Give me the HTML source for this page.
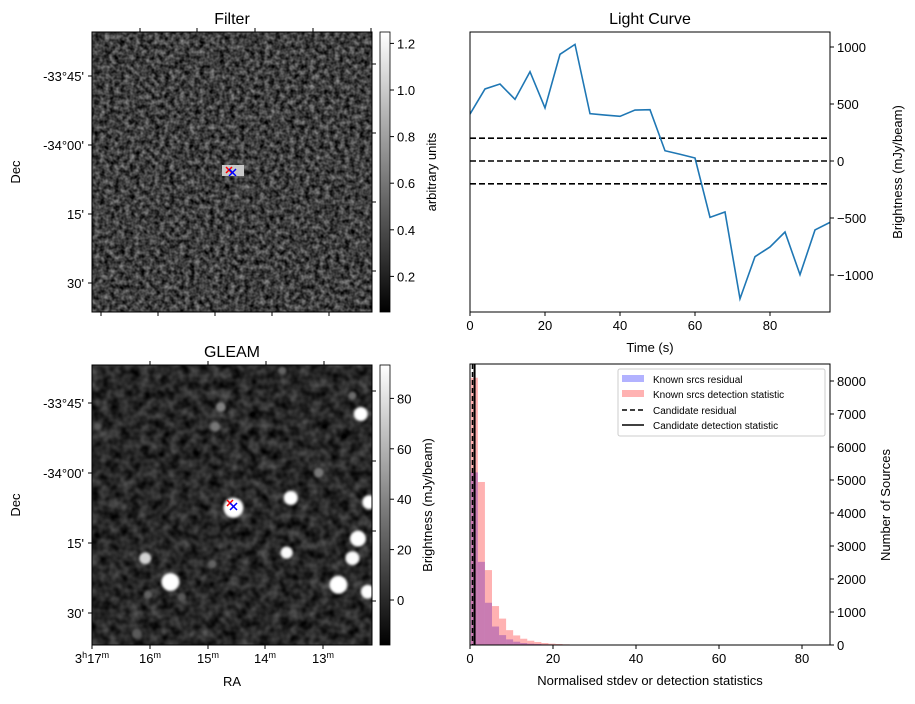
<!DOCTYPE html>
<html><head><meta charset="utf-8"><style>
body{margin:0;background:#fff;}
svg text{font-family:"Liberation Sans","DejaVu Sans",sans-serif;fill:#000;}
</style></head><body>
<svg id="fig" width="915" height="699" viewBox="0 0 915 699" xmlns="http://www.w3.org/2000/svg">
<defs>
<filter id="noise1" x="0" y="0" width="100%" height="100%" color-interpolation-filters="sRGB">
<feTurbulence type="fractalNoise" baseFrequency="0.2" numOctaves="2" seed="3"/>
<feColorMatrix type="matrix" values="0.75 0 0 0 -0.13  0.75 0 0 0 -0.13  0.75 0 0 0 -0.13  0 0 0 0 1"/>
</filter>
<filter id="noise2" x="0" y="0" width="100%" height="100%" color-interpolation-filters="sRGB">
<feTurbulence type="fractalNoise" baseFrequency="0.1" numOctaves="2" seed="7"/>
<feColorMatrix type="matrix" values="0.45 0 0 0 -0.07  0.45 0 0 0 -0.07  0.45 0 0 0 -0.07  0 0 0 0 1"/>
</filter>
<filter id="blur1" color-interpolation-filters="sRGB"><feGaussianBlur stdDeviation="1.2"/></filter>
<linearGradient id="cbar" x1="0" y1="1" x2="0" y2="0"><stop offset="0" stop-color="#000"/><stop offset="1" stop-color="#fff"/></linearGradient>
<clipPath id="clipG"><rect x="92" y="365" width="280" height="280"/></clipPath>
<clipPath id="clipLC"><rect x="470" y="32" width="360" height="280"/></clipPath>
</defs>

<text x="232" y="24" font-size="16" text-anchor="middle">Filter</text>
<g>
<rect x="92" y="32" width="280" height="280" fill="#3a3a3a"/>
<rect x="92" y="32" width="280" height="280" filter="url(#noise1)"/>
<rect x="222" y="165" width="22" height="11" fill="#c8c8c8"/>
</g>
<g>
<path d="M226,167 l6,6 M232,167 l-6,6" stroke="red" stroke-width="1.5"/>
<path d="M229,169 l7,7 M236,169 l-7,7" stroke="blue" stroke-width="1.5"/>
</g>
<rect x="92" y="32" width="280" height="280" fill="none" stroke="#000"/>
<g id="filterTicks"></g>
<text x="20" y="172" font-size="13" transform="rotate(-90 20 172)" text-anchor="middle">Dec</text>
<rect x="380" y="32" width="10" height="280" fill="url(#cbar)" stroke="#000" stroke-width="0.8"/>
<g id="cb1"></g>
<text x="436" y="172" font-size="13" transform="rotate(-90 436 172)" text-anchor="middle">arbitrary units</text>

<text x="232" y="357" font-size="16" text-anchor="middle">GLEAM</text>
<g clip-path="url(#clipG)">
<rect x="92" y="365" width="280" height="280" fill="#262626"/>
<rect x="92" y="365" width="280" height="280" filter="url(#noise2)"/>
<g id="blobs" filter="url(#blur1)"></g>
</g>
<g>
<path d="M227,500 l6,6 M233,500 l-6,6" stroke="red" stroke-width="1.5"/>
<path d="M230,503 l7,7 M237,503 l-7,7" stroke="blue" stroke-width="1.5"/>
</g>
<rect x="92" y="365" width="280" height="280" fill="none" stroke="#000"/>
<g id="gleamTicks"></g>
<text x="20" y="505" font-size="13" transform="rotate(-90 20 505)" text-anchor="middle">Dec</text>
<text x="232" y="686" font-size="13" text-anchor="middle">RA</text>
<rect x="380" y="365" width="10" height="280" fill="url(#cbar)" stroke="#000" stroke-width="0.8"/>
<g id="cb2"></g>
<text x="432" y="505" font-size="13" transform="rotate(-90 432 505)" text-anchor="middle">Brightness (mJy/beam)</text>

<text x="650" y="24" font-size="16" text-anchor="middle">Light Curve</text>
<g id="lc"></g>
<rect x="470" y="32" width="360" height="280" fill="none" stroke="#000"/>
<text x="650" y="352" font-size="13" text-anchor="middle">Time (s)</text>
<text x="902" y="172" font-size="13" transform="rotate(-90 902 172)" text-anchor="middle">Brightness (mJy/beam)</text>

<g id="hist"></g>
<rect x="470" y="364" width="360" height="281" fill="none" stroke="#000"/>
<text x="650" y="685" font-size="13" text-anchor="middle">Normalised stdev or detection statistics</text>
<text x="890" y="505" font-size="13" transform="rotate(-90 890 505)" text-anchor="middle">Number of Sources</text>
<g>
<rect x="618" y="369" width="207" height="67" fill="#fff" fill-opacity="0.8" stroke="#ccc" rx="2"/>
<rect x="622" y="375" width="22" height="7" fill="rgba(0,0,255,0.3)"/>
<text x="653" y="383" font-size="10">Known srcs residual</text>
<rect x="622" y="390" width="22" height="7" fill="rgba(255,0,0,0.3)"/>
<text x="653" y="398" font-size="10">Known srcs detection statistic</text>
<line x1="622" y1="410" x2="644" y2="410" stroke="#000" stroke-width="1.5" stroke-dasharray="5,3"/>
<text x="653" y="414" font-size="10">Candidate residual</text>
<line x1="622" y1="425" x2="644" y2="425" stroke="#000" stroke-width="1.5"/>
<text x="653" y="429" font-size="10">Candidate detection statistic</text>
</g>
</svg>
<script>
const NS='http://www.w3.org/2000/svg';
const lcTimes=[0,4,8,12,16,20,24,28,32,36,40,44,48,52,56,60,64,68,72,76,80,84,88,92,96];
const lcValues=[412,632,675,541,783,465,936,1023,415,403,392,447,450,90,59,26,-494,-447,-1208,-839,-754,-623,-997,-605,-538];
const lcThresholds=[200,0,-200];
const lcXTicks=[0,20,40,60,80];
const lcYTicks=[-1000,-500,0,500,1000];
const histEdgeStart=0.2;
const histBinWidth=1.7;
const histDetection=[8100,4940,2270,1180,800,450,290,190,130,90,60,40,30,20,15,10,8,6,5,4,4,3,3,2,2,2,2,1,1,1,1,2,1,1,1,1,2,1,1,1,1,1,1,1,1,1,1,1,1,1];
const histResidual=[5230,2520,1280,560,300,170,100,60,40,30,20,15,10,8,6,5,4,3,3,2,2,2,1,1,2,1,1,1,1,1];
const candResidual=0.6;
const candDetection=1.1;
const histXTicks=[0,20,40,60,80];
const histYTicks=[0,1000,2000,3000,4000,5000,6000,7000,8000];
const cb1Ticks=[0.2,0.4,0.6,0.8,1.0,1.2];
const cb2Ticks=[0,20,40,60,80];
const srcX=[0.505,0.96,0.71,0.99,0.95,0.695,0.93,0.28,0.88,0.985,0.19,0.46,0.44,0.81,0.68,0.93,0.02,0.2,0.32,0.43,0.16];
const srcY=[0.51,0.175,0.475,0.49,0.62,0.67,0.69,0.775,0.785,0.81,0.69,0.15,0.22,0.385,0.02,0.11,0.22,0.82,0.83,0.71,0.96];
const srcR=[10,7,7,7,8,6,7,9,9,7,6,5,5,5,4,4,4,4,4,4,5];
const srcB=[255,255,255,255,255,250,250,255,255,255,210,130,120,120,100,110,90,100,90,100,90];

function el(tag,attrs,parent){const e=document.createElementNS(NS,tag);for(const k in attrs)e.setAttribute(k,attrs[k]);parent.appendChild(e);return e;}
function txt(s,attrs,parent){const t=el('text',attrs,parent);t.textContent=s;return t;}

const lx=v=>470+v*3.75;
const ly=v=>161-v*0.114;
const lc=document.getElementById('lc');
const lcClip=el('g',{'clip-path':'url(#clipLC)'},lc);
lcThresholds.forEach(t=>{
  const l=el('line',{x1:470,x2:830,y1:ly(t),y2:ly(t),stroke:'#000','stroke-width':1.6,'stroke-dasharray':'6,3'},lcClip);
  
  
});
const pts=lcTimes.map((t,i)=>lx(t)+','+ly(lcValues[i])).join(' ');
const pl=el('polyline',{points:pts,fill:'none',stroke:'#1f77b4','stroke-width':1.6},lcClip);


lcXTicks.forEach(v=>{
  el('line',{x1:lx(v),x2:lx(v),y1:312,y2:316,stroke:'#000'},lc);
  const t=txt(String(v),{x:lx(v),y:330,'font-size':13,'text-anchor':'middle'},lc);
  
  
});
lcYTicks.forEach(v=>{
  el('line',{x1:830,x2:834,y1:ly(v),y2:ly(v),stroke:'#000'},lc);
  const t=txt(v<0?'\u2212'+(-v):String(v),{x:837,y:ly(v)+5,'font-size':13},lc);
  
  
});

const hx=v=>470+v*4.15;
const hy=v=>645-v*0.033;
const hist=document.getElementById('hist');
histResidual.forEach((c,i)=>{
  const x0=hx(histEdgeStart+i*histBinWidth),x1=hx(histEdgeStart+(i+1)*histBinWidth);
  const r=el('rect',{x:x0,y:hy(c),width:x1-x0,height:645-hy(c),fill:'rgba(0,0,255,0.3)'},hist);
  
  
});
histDetection.forEach((c,i)=>{
  const x0=hx(histEdgeStart+i*histBinWidth),x1=hx(histEdgeStart+(i+1)*histBinWidth);
  const r=el('rect',{x:x0,y:hy(c),width:x1-x0,height:645-hy(c),fill:'rgba(255,0,0,0.3)'},hist);
  
  
});
const cl1=el('line',{x1:hx(candResidual),x2:hx(candResidual),y1:364,y2:645,stroke:'#000','stroke-width':1.5,'stroke-dasharray':'5,3'},hist);


const cl2=el('line',{x1:hx(candDetection),x2:hx(candDetection),y1:364,y2:645,stroke:'#000','stroke-width':2},hist);


histXTicks.forEach(v=>{
  el('line',{x1:hx(v),x2:hx(v),y1:645,y2:649,stroke:'#000'},hist);
  const t=txt(String(v),{x:hx(v),y:663,'font-size':13,'text-anchor':'middle'},hist);
  
  
});
histYTicks.forEach(v=>{
  el('line',{x1:830,x2:834,y1:hy(v),y2:hy(v),stroke:'#000'},hist);
  const t=txt(String(v),{x:837,y:hy(v)+5,'font-size':13},hist);
  
  
});

const cb1=document.getElementById('cb1');
const c1y=v=>90-(v-1.0)*233;
cb1Ticks.forEach(v=>{
  el('line',{x1:390,x2:394,y1:c1y(v),y2:c1y(v),stroke:'#000'},cb1);
  const t=txt(v.toFixed(1),{x:397,y:c1y(v)+5,'font-size':13},cb1);
  
  
});
const cb2=document.getElementById('cb2');
const c2y=v=>600-v*2.52;
cb2Ticks.forEach(v=>{
  el('line',{x1:390,x2:394,y1:c2y(v),y2:c2y(v),stroke:'#000'},cb2);
  const t=txt(String(v),{x:397,y:c2y(v)+5,'font-size':13},cb2);
  
  
});

function wcs(g,top,decY,raTopX,raBotX,showDec,showRA){
  const labels=["-33\u00b045'","-34\u00b000'","15'","30'"];
  decY.forEach((y,i)=>{
    el('line',{x1:88,x2:92,y1:y,y2:y,stroke:'#000'},g);
    el('line',{x1:372,x2:376,y1:y-12,y2:y-12,stroke:'#000'},g);
    if(showDec){const t=txt(labels[i],{x:84,y:y+5,'font-size':13,'text-anchor':'end'},g);
      
      }
  });
  raTopX.forEach(x=>el('line',{x1:x,x2:x,y1:top-4,y2:top,stroke:'#000'},g));
  const ra=['3h17m','16m','15m','14m','13m'];
  raBotX.forEach((x,i)=>{
    el('line',{x1:x,x2:x,y1:top+280,y2:top+284,stroke:'#000'},g);
    if(showRA){
      const t=el('text',{x:x,y:top+298,'font-size':13,'text-anchor':'middle'},g);
      
      
      if(i===0){t.innerHTML='3<tspan font-size="9" dy="-5">h</tspan><tspan dy="5">17</tspan><tspan font-size="9" dy="-5">m</tspan>';}
      else{t.innerHTML=ra[i].replace('m','')+'<tspan font-size="9" dy="-5">m</tspan>';}
    }
  });
}
wcs(document.getElementById('filterTicks'),32,[76,145,214,283],[140,197,255,313,371],[101,158,215,272,329],true,false);
wcs(document.getElementById('gleamTicks'),365,[403,473,543,613],[150,208,266,324],[92,150,208,265,323],true,true);

const blobs=document.getElementById('blobs');
srcX.forEach((fx,i)=>{
  const b=srcB[i];
  const c=el('circle',{cx:92+fx*280,cy:365+srcY[i]*280,r:srcR[i],fill:`rgb(${b},${b},${b})`},blobs);
  
  
});
</script>
</body></html>
